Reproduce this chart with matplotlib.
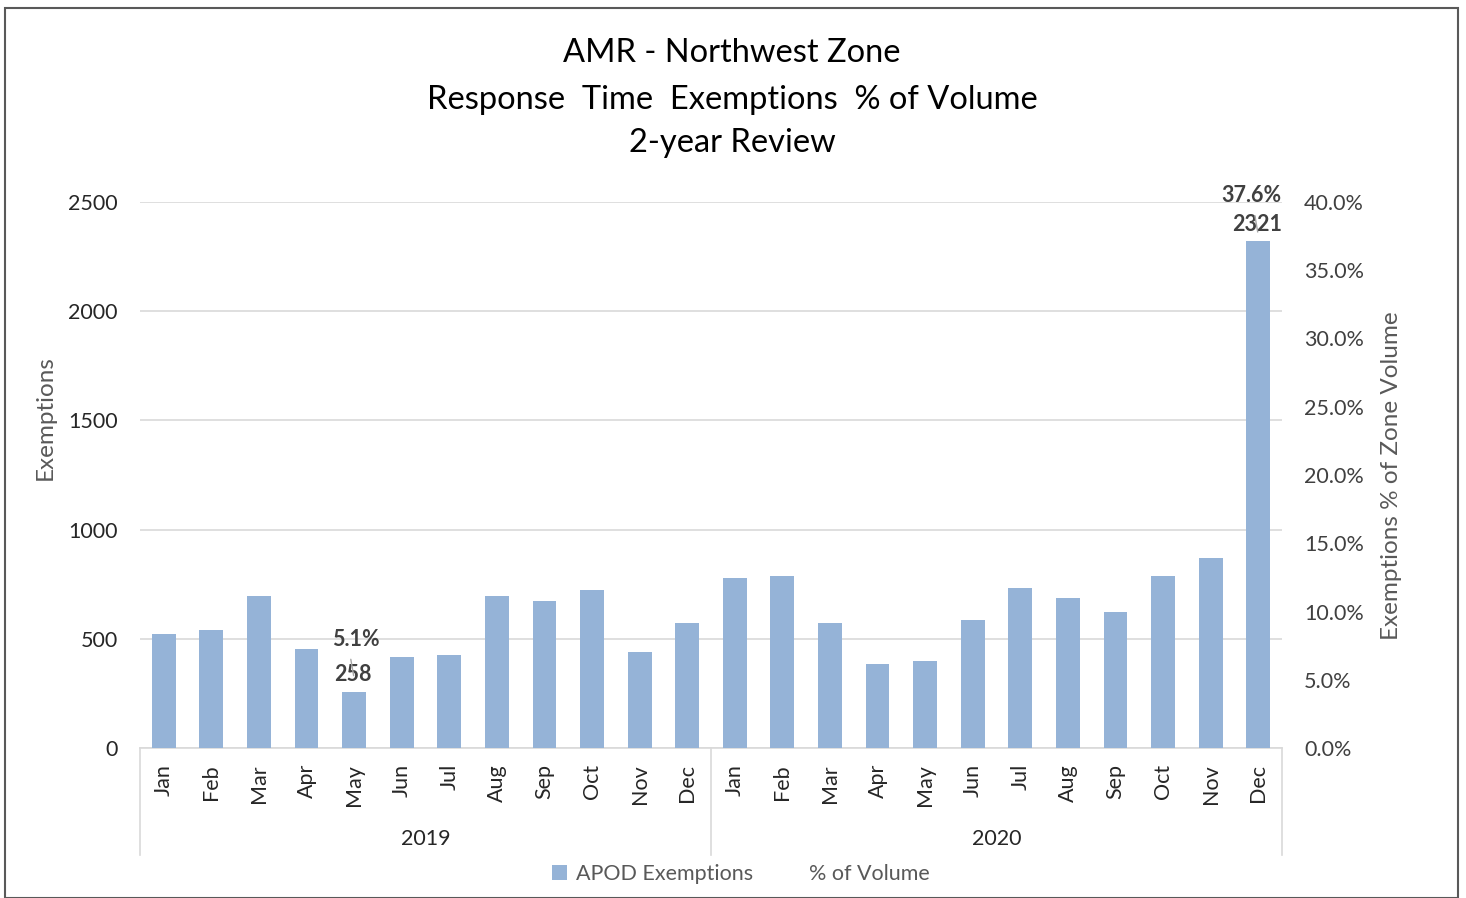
import numpy as np
import matplotlib.pyplot as plt
from matplotlib.patches import Rectangle
from matplotlib.ticker import FuncFormatter

plt.rcParams['font.family'] = ['Lato', 'DejaVu Sans']

months = ['Jan', 'Feb', 'Mar', 'Apr', 'May', 'Jun', 'Jul', 'Aug', 'Sep', 'Oct', 'Nov', 'Dec']
years = ['2019', '2020']
exemptions_2019 = [522, 540, 696, 453, 258, 417, 426, 696, 673, 723, 440, 572]
exemptions_2020 = [778, 788, 572, 385, 398, 586, 733, 687, 623, 788, 870, 2321]
# only the labelled points of the % series are readable (the line itself is not drawn)
pct_points = {4: 5.1, 23: 37.6}

exemptions = exemptions_2019 + exemptions_2020
labels = months + months
x = np.arange(len(exemptions))

W, H = 1466, 898
fs = 15.5
fig = plt.figure(figsize=(W / 100, H / 100), dpi=100)
fig.patches.append(Rectangle((5 / W, 0), 1453 / W, 1 - 8 / H, transform=fig.transFigure,
                             fill=False, edgecolor='#595959', linewidth=1.5))

ax = fig.add_axes([140 / W, 150 / H, 1142 / W, 546 / H])
bar_color = '#95B3D7'
ax.bar(x, exemptions, width=0.5, color=bar_color, zorder=3, label='APOD Exemptions')
ax.set_xlim(-0.5, len(x) - 0.5)
ax.set_ylim(0, 2500)
ax.set_yticks(range(0, 2501, 500))
ax.grid(axis='y', color='#d9d9d9', linewidth=1.2, zorder=0)
for s in ['top', 'right', 'left']:
    ax.spines[s].set_visible(False)
ax.spines['bottom'].set_color('#d9d9d9')
ax.spines['bottom'].set_linewidth(1.2)
ax.tick_params(axis='y', length=0, pad=16, labelsize=fs, labelcolor='#262626')
ax.tick_params(axis='x', length=0)
ax.set_xticks([])
fig.text(45 / W, 1 - 418 / H, 'Exemptions', rotation=90, ha='center', va='center',
         fontsize=17.5, color='#595959')

ax2 = ax.twinx()
ax2.set_ylim(0, 40)
ax2.set_yticks(np.arange(0, 40.1, 5))
ax2.yaxis.set_major_formatter(FuncFormatter(lambda v, p: '%.1f%%' % v))
for s in ax2.spines.values():
    s.set_visible(False)
ax2.tick_params(axis='y', length=0, pad=16, labelsize=fs, labelcolor='#404040')
fig.text(1391 / W, 1 - 476 / H, 'Exemptions % of Zone Volume', rotation=90, ha='center',
         va='center', fontsize=17.5, color='#595959')
ax2.plot([], [], color='none', label='% of Volume')

# category labels and year groups
trans = ax.get_xaxis_transform()
for i, lab in enumerate(labels):
    ax.text(x[i], -16 / 546, lab, transform=trans, rotation=90, ha='center', va='top',
            fontsize=fs, color='#262626')
for k, yr in enumerate(years):
    ax.text(k * 12 + 5.5, -91 / 546, yr, transform=trans, ha='center', va='center',
            fontsize=fs, color='#262626')
for xs in [-0.5, 11.5, 23.5]:
    ax.plot([xs, xs], [0, -107 / 546], transform=trans, color='#d9d9d9', linewidth=1.2,
            clip_on=False)

# data labels
for i, p in pct_points.items():
    ax.annotate(str(exemptions[i]), (x[i], exemptions[i]), xytext=(-1, 12),
                textcoords='offset points', ha='center', va='center',
                fontsize=fs, fontweight='bold', color='#404040', zorder=5)
    ax2.annotate('%.1f%%' % p, (x[i], p), xytext=(-5 if i == 23 else 1, 28),
                 textcoords='offset points', ha='center', va='center',
                 fontsize=fs, fontweight='bold', color='#404040', zorder=5)
    ax2.annotate('', (x[i], p), xytext=(x[i] - 0.08, p + 1.6),
                 arrowprops=dict(arrowstyle='-', color='#a6a6a6', lw=1))

title_fs = 23.5
fig.text(732 / W, 1 - 53 / H, 'AMR - Northwest Zone', ha='center', va='center',
         fontsize=title_fs)
fig.text(732 / W, 1 - 100 / H, 'Response  Time  Exemptions  % of Volume', ha='center',
         va='center', fontsize=title_fs)
fig.text(732 / W, 1 - 143 / H, '2-year Review', ha='center', va='center', fontsize=title_fs)

h1, l1 = ax.get_legend_handles_labels()
h2, l2 = ax2.get_legend_handles_labels()
fig.legend(h1 + h2, l1 + l2, loc='center', bbox_to_anchor=(741 / W, 1 - 874 / H), ncol=2,
           frameon=False, fontsize=fs, labelcolor='#595959', handlelength=0.7,
           handleheight=0.7, columnspacing=1.5, handletextpad=0.4)

fig.savefig('out.png', dpi=100)
